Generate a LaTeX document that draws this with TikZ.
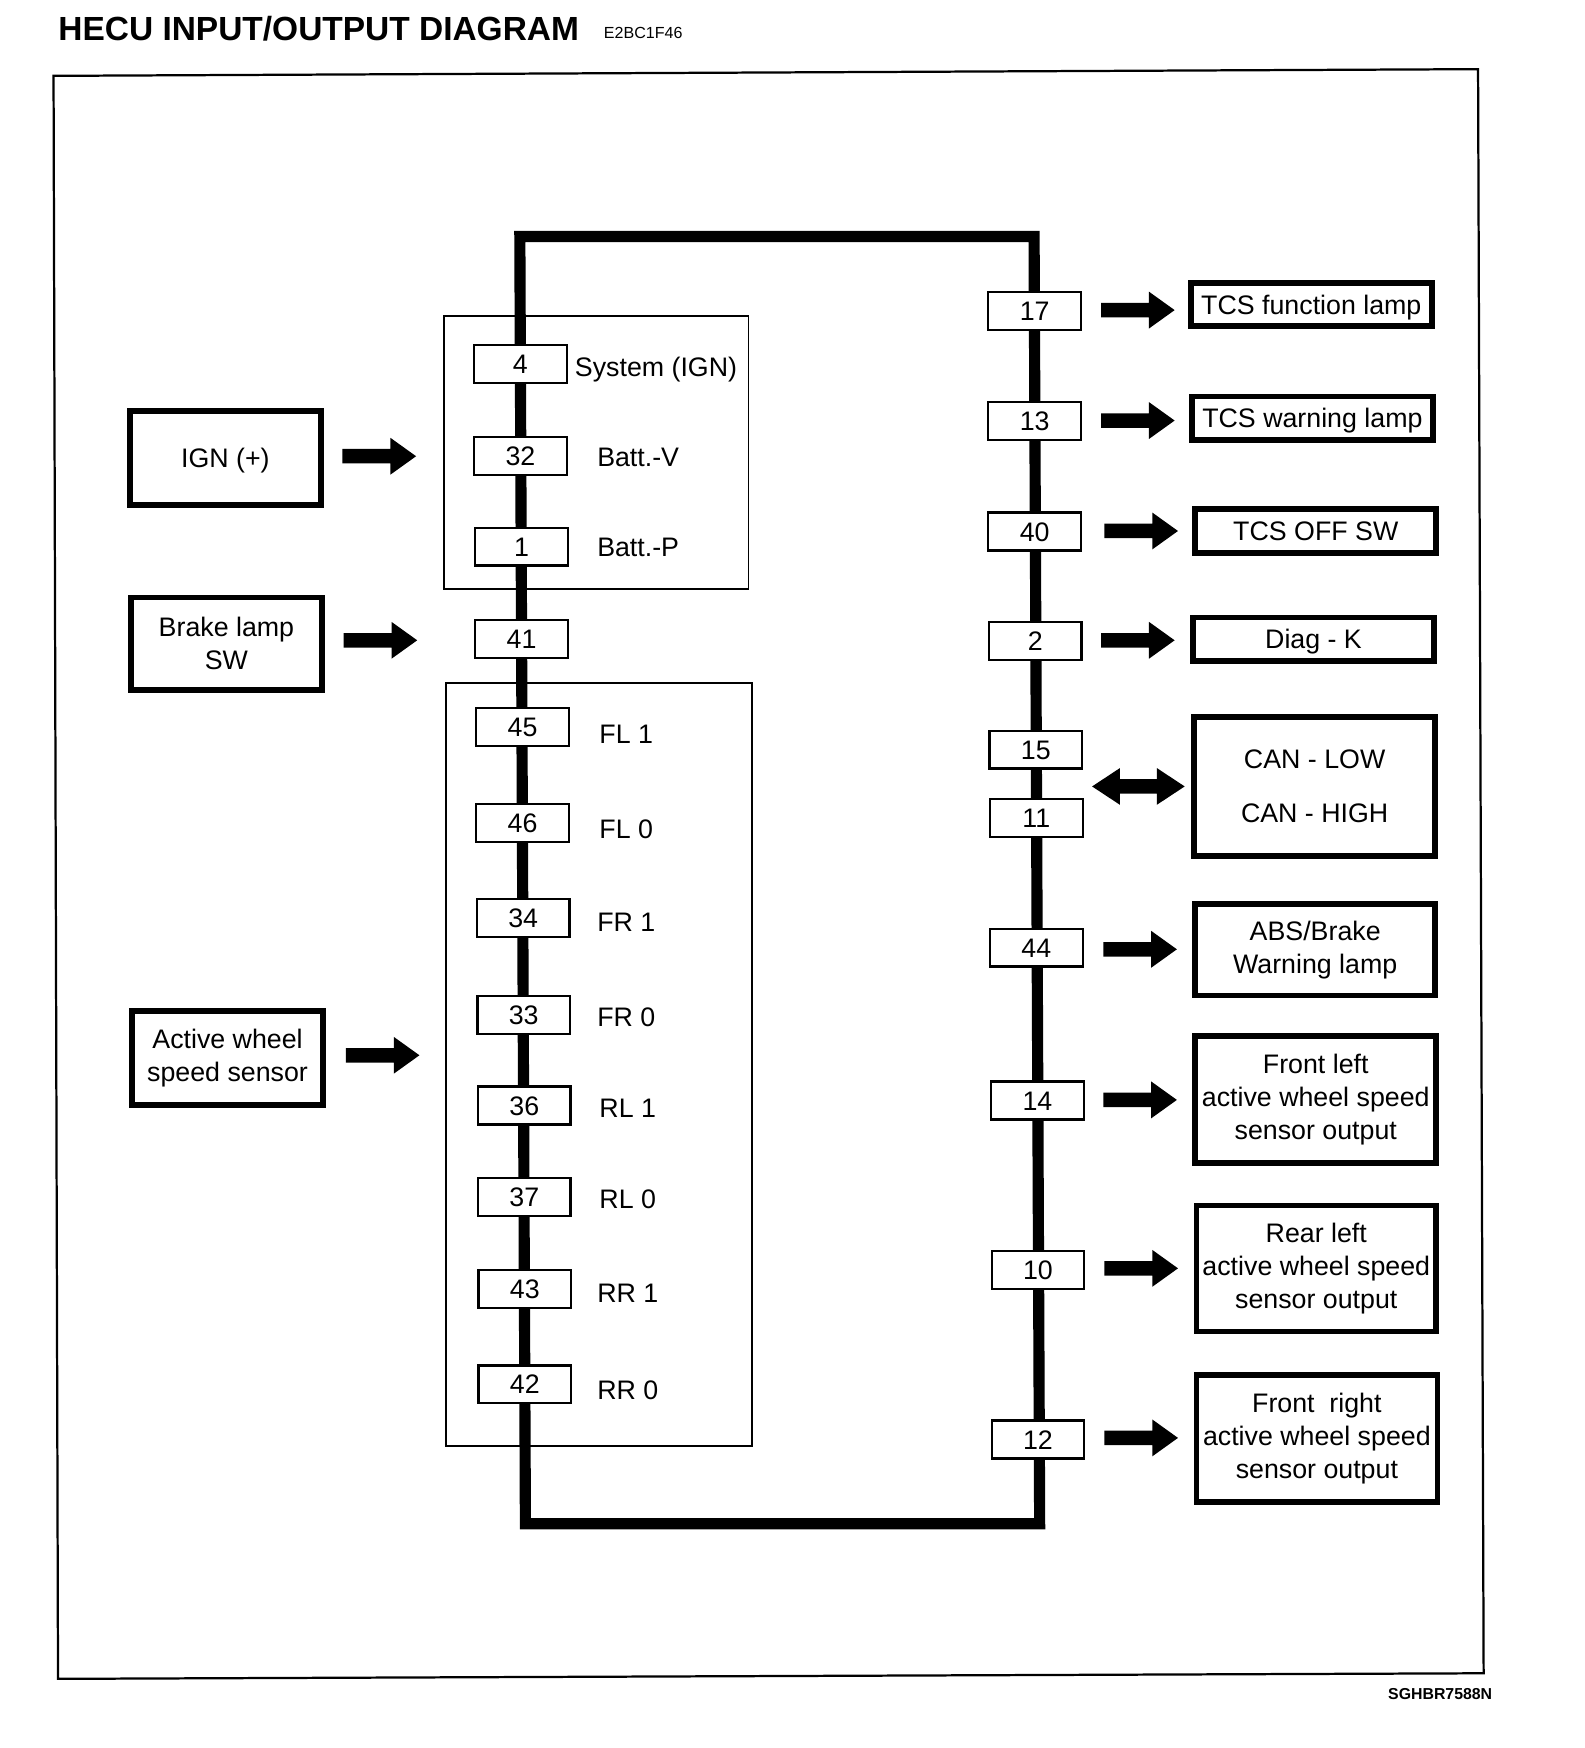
\documentclass[tikz,border=0pt]{standalone}
\usepackage{fontspec}
\setmainfont{Liberation Sans}
\usetikzlibrary{backgrounds}
\begin{document}
\begin{tikzpicture}[x=0.5pt,y=-0.5pt,
  pin/.style={draw,line width=1pt,fill=white,minimum width=41.5pt,minimum height=17pt,inner sep=0pt,text height=8.6pt,text depth=0pt,font=\fontsize{12}{14}\selectfont},
  lbl/.style={anchor=west,inner sep=0pt,text height=8.6pt,text depth=0pt,font=\fontsize{12}{14}\selectfont},
  extbox/.style={draw,line width=2.5pt,inner sep=0pt,align=center,font=\fontsize{12}{14.75}\selectfont},
  onebox/.style={extbox,text height=8.6pt,text depth=0pt},
  grp/.style={line width=0.8pt},
  bus/.style={line width=5pt,line join=miter},
  frame/.style={line width=1pt},
  rarr/.pic={\fill (0,-6.5) -- (43,-6.5) -- (43,-16.5) -- (66,0) -- (43,16.5) -- (43,6.5) -- (0,6.5) -- cycle;},
  darr/.pic={\fill (0,0) -- (25,-16.5) -- (25,-6.5) -- (58,-6.5) -- (58,-16.5) -- (83,0) -- (58,16.5) -- (58,6.5) -- (25,6.5) -- (25,16.5) -- cycle;},
]
\useasboundingbox (0,0) rectangle (1420,1567);

% title and codes
\node[anchor=west,inner sep=0pt,font=\fontsize{15}{17}\selectfont\bfseries] (title) at (52,26) {HECU\ INPUT/OUTPUT\ DIAGRAM};
\node[anchor=west,inner sep=0pt,font=\fontsize{7.2}{8}\selectfont] (code) at (541,30) {E2BC1F46};
\node[anchor=east,inner sep=0pt,font=\fontsize{7.1}{8}\selectfont\bfseries] (ref) at (1338,1519) {SGHBR7588N};

% outer frame
\draw[frame] (48,68) -- (1325,62) -- (1330,1500) -- (52,1505) -- cycle;

% group boxes
\draw[grp] (398,283) rectangle (671,528);
\draw[grp] (400,612) rectangle (674,1296);

% bus loop corners
\coordinate (tl) at (466,212);
\coordinate (tr) at (927,212);
\coordinate (br) at (932,1366);
\coordinate (bl) at (471,1366);

% left pins
\node[pin] (p4)  at (466.5,326) {4};
\node[pin] (p32) at (466.5,409) {32};
\node[pin] (p1)  at (467.5,490) {1};
\node[pin] (p41) at (467.5,573) {41};
\node[pin] (p45) at (468.5,652) {45};
\node[pin] (p46) at (468.5,738) {46};
\node[pin] (p34) at (469,823) {34};
\node[pin] (p33) at (469.5,910) {33};
\node[pin] (p36) at (470,991) {36};
\node[pin] (p37) at (470,1073) {37};
\node[pin] (p43) at (470.5,1155.5) {43};
\node[pin] (p42) at (470.5,1241) {42};

% left labels
\node[lbl] (l4)  at (515,329) {System (IGN)};
\node[lbl] (l32) at (535,410) {Batt.-V};
\node[lbl] (l1)  at (535,490) {Batt.-P};
\node[lbl] (l45) at (537,658) {FL 1};
\node[lbl] (l46) at (537,743) {FL 0};
\node[lbl] (l34) at (535,826) {FR 1};
\node[lbl] (l33) at (535,912) {FR 0};
\node[lbl] (l36) at (537,993) {RL 1};
\node[lbl] (l37) at (537,1075) {RL 0};
\node[lbl] (l43) at (535,1159) {RR 1};
\node[lbl] (l42) at (535,1246) {RR 0};

% right pins
\node[pin] (p17) at (927.5,278.5) {17};
\node[pin] (p13) at (927.5,377.5) {13};
\node[pin] (p40) at (927.5,476.5) {40};
\node[pin] (p2)  at (928,574.5) {2};
\node[pin] (p15) at (928.5,672) {15};
\node[pin] (p11) at (929,733.5) {11};
\node[pin] (p44) at (929,849.5) {44};
\node[pin] (p14) at (930,986.5) {14};
\node[pin] (p10) at (930.5,1138.5) {10};
\node[pin] (p12) at (930.5,1290.5) {12};

% input boxes
\node[onebox,minimum width=85.5pt,minimum height=42pt] (ign) at (202,410.5) {IGN (+)};
\node[extbox,minimum width=85.5pt,minimum height=41.5pt] (brake) at (203,577) {Brake lamp\\SW};
\node[extbox,minimum width=85.5pt,minimum height=42pt] (aws) at (204,948.5) {Active wheel\\speed sensor};

% output boxes
\node[onebox,minimum width=108pt,minimum height=19.5pt] (tcsf) at (1175.5,273) {TCS function lamp};
\node[onebox,minimum width=108pt,minimum height=19.5pt] (tcsw) at (1176.5,375) {TCS warning lamp};
\node[onebox,minimum width=108pt,minimum height=19.5pt] (tcso) at (1179.5,476) {TCS OFF SW};
\node[onebox,minimum width=108pt,minimum height=19.5pt] (diag) at (1177.5,573) {Diag - K};
\node[extbox,minimum width=108pt,minimum height=62.5pt,font=\fontsize{12}{24}\selectfont] (can) at (1178.5,705) {CAN - LOW\\CAN - HIGH};
\node[extbox,minimum width=107.5pt,minimum height=41pt] (abs) at (1179,851.5) {ABS/Brake\\Warning lamp};
\node[extbox,minimum width=108pt,minimum height=57pt] (flo) at (1179.5,985.5) {Front left\\active wheel speed\\sensor output};
\node[extbox,minimum width=107.5pt,minimum height=56.5pt] (rlo) at (1180,1137) {Rear left\\active wheel speed\\sensor output};
\node[extbox,minimum width=108pt,minimum height=57pt] (fro) at (1180.5,1289.5) {Front~ right\\active wheel speed\\sensor output};

% arrows (input side)
\pic at (307,409) {rarr};
\pic at (308,574) {rarr};
\pic at (310,946) {rarr};

% arrows (output side)
\pic at (987,278) {rarr};
\pic at (987,377) {rarr};
\pic at (990,476) {rarr};
\pic at (987,574) {rarr};
\pic at (979,705) {darr};
\pic at (989,851) {rarr};
\pic at (989,986) {rarr};
\pic at (990,1137) {rarr};
\pic at (990,1289) {rarr};

% bus loop behind the pins
\begin{scope}[on background layer]
\draw[bus] (tl) -- (tr) -- (br) -- (bl) -- cycle;
\end{scope}
\end{tikzpicture}
\end{document}
